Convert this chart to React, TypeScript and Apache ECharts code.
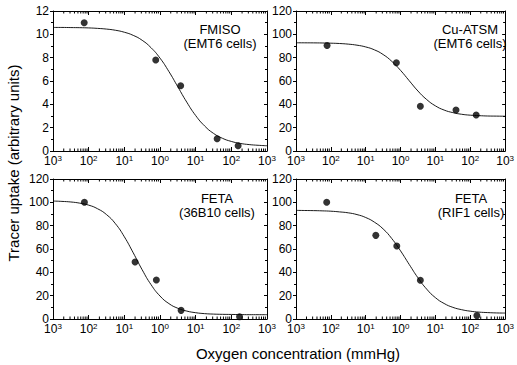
import React, { useEffect, useRef } from "react";
import * as echarts from "echarts";

// x positions of the curve samples, in decades (log10 of mmHg)
const CURVE_EXP = [-3, -2.75, -2.5, -2.25, -2, -1.75, -1.5, -1.25, -1, -0.75, -0.5, -0.25, 0, 0.25, 0.5, 0.75, 1, 1.25, 1.5, 1.75, 2, 2.25, 2.5, 2.75, 3];

// Panel 1: FMISO (EMT6 cells)
const FMISO_X = [0.0075, 0.76, 3.8, 40, 155];
const FMISO_Y = [11.0, 7.8, 5.6, 1.05, 0.45];
const FMISO_CURVE = [10.59, 10.59, 10.58, 10.57, 10.55, 10.51, 10.45, 10.35, 10.18, 9.91, 9.49, 8.85, 7.96, 6.81, 5.5, 4.19, 3.04, 2.15, 1.51, 1.09, 0.82, 0.65, 0.55, 0.49, 0.45];

// Panel 2: Cu-ATSM (EMT6 cells)
const CUATSM_X = [0.0078, 0.76, 3.7, 39, 148];
const CUATSM_Y = [90.5, 75.7, 38.3, 35.1, 30.9];
const CUATSM_CURVE = [92.76, 92.73, 92.68, 92.59, 92.42, 92.13, 91.6, 90.7, 89.2, 86.7, 82.7, 76.8, 69.1, 60.2, 51.4, 44.1, 38.7, 35.1, 32.9, 31.5, 30.7, 30.3, 30.0, 29.9, 29.8];

// Panel 3: FETA (36B10 cells)
const FETA36_X = [0.0076, 0.2, 0.79, 3.9, 170];
const FETA36_Y = [100, 48.9, 33.4, 7.4, 2.0];
const FETA36_CURVE = [101.1, 100.8, 100.3, 99.3, 97.6, 94.5, 89.5, 81.7, 70.5, 56.7, 42.2, 29.4, 19.7, 13.2, 9.2, 6.8, 5.4, 4.6, 4.2, 4.0, 3.9, 3.8, 3.7, 3.7, 3.7];

// Panel 4: FETA (RIF1 cells)
const FETARIF_X = [0.0076, 0.195, 0.78, 3.7, 155];
const FETARIF_Y = [100, 71.7, 62.6, 33.2, 2.9];
const FETARIF_CURVE = [93.1, 93.0, 92.9, 92.7, 92.4, 91.8, 91.0, 89.5, 87.0, 83.0, 77.2, 68.9, 58.4, 46.7, 35.3, 25.6, 18.3, 13.3, 10.0, 8.0, 6.7, 5.9, 5.5, 5.2, 5.1];

const TITLES = [
  ["FMISO", "(EMT6 cells)"],
  ["Cu-ATSM", "(EMT6 cells)"],
  ["FETA", "(36B10 cells)"],
  ["FETA", "(RIF1 cells)"],
];
const Y_MAX = [12, 120, 120, 120];
const Y_INTERVAL = [2, 20, 20, 20];

const X_TITLE = "Oxygen concentration (mmHg)";
const Y_TITLE = "Tracer uptake (arbitrary units)";

const FONT = "'Liberation Sans', Arial, Helvetica, sans-serif";
const SUP: Record<string, string> = { "-3": "3", "-2": "2", "-1": "1", "0": "0", "1": "1", "2": "2", "3": "3" };

const GRIDS = [
  { left: 53, top: 11, width: 214, height: 140 },
  { left: 296, top: 11, width: 216, height: 140 },
  { left: 53, top: 179, width: 214, height: 140 },
  { left: 296, top: 179, width: 216, height: 140 },
];
const TITLE_POS = [
  [220, 29],
  [470, 29],
  [217, 198],
  [471, 198],
];

export default function App() {
  const ref = useRef<HTMLDivElement>(null);
  useEffect(() => {
    if (!ref.current) return;
    const chart = echarts.init(ref.current, null, { renderer: "svg" });

    const panels = [
      { x: FMISO_X, y: FMISO_Y, c: FMISO_CURVE },
      { x: CUATSM_X, y: CUATSM_Y, c: CUATSM_CURVE },
      { x: FETA36_X, y: FETA36_Y, c: FETA36_CURVE },
      { x: FETARIF_X, y: FETARIF_Y, c: FETARIF_CURVE },
    ];

    // log minor tick positions (2..9 within each decade)
    const minorTicks: number[][] = [];
    for (let d = -3; d < 3; d++) {
      for (let k = 2; k <= 9; k++) minorTicks.push([d + Math.log10(k), 0]);
    }

    const xAxis: any[] = [];
    const yAxis: any[] = [];
    const series: any[] = [];
    panels.forEach((p, i) => {
      const ymax = Y_MAX[i];
      xAxis.push({
        gridIndex: i,
        type: "value",
        min: -3,
        max: 3,
        interval: 1,
        position: "bottom",
        axisLine: { onZero: false, lineStyle: { color: "#000", width: 1 } },
        axisTick: { inside: true, length: 4, lineStyle: { color: "#000" } },
        splitLine: { show: false },
        axisLabel: {
          margin: 3,
          formatter: (v: number) => `{a|10}{b|${SUP[String(Math.round(v))]}}`,
          rich: {
            a: { fontSize: 12, fontFamily: FONT, color: "#000", lineHeight: 13, verticalAlign: "bottom" },
            b: { fontSize: 8, fontFamily: FONT, color: "#000", lineHeight: 8, verticalAlign: "top" },
          },
        },
      });
      xAxis.push({
        gridIndex: i,
        type: "value",
        min: -3,
        max: 3,
        interval: 1,
        position: "top",
        axisLine: { onZero: false, lineStyle: { color: "#000", width: 1 } },
        axisTick: { inside: true, length: 4, lineStyle: { color: "#000" } },
        axisLabel: { show: false },
        splitLine: { show: false },
      });
      yAxis.push({
        gridIndex: i,
        type: "value",
        min: 0,
        max: ymax,
        interval: Y_INTERVAL[i],
        position: "left",
        axisLine: { onZero: false, lineStyle: { color: "#000", width: 1 } },
        axisTick: { inside: false, length: 3, lineStyle: { color: "#000" } },
        minorTick: { show: true, splitNumber: 2, length: 2, lineStyle: { color: "#000" } },
        splitLine: { show: false },
        axisLabel: { margin: 4, fontSize: 12, fontFamily: FONT, color: "#000" },
      });
      yAxis.push({
        gridIndex: i,
        type: "value",
        min: 0,
        max: ymax,
        interval: Y_INTERVAL[i],
        position: "right",
        axisLine: { onZero: false, lineStyle: { color: "#000", width: 1 } },
        axisTick: { inside: true, length: 3, lineStyle: { color: "#000" } },
        minorTick: { show: true, splitNumber: 2, length: 2, lineStyle: { color: "#000" } },
        splitLine: { show: false },
        axisLabel: { show: false },
      });

      series.push({
        type: "line",
        xAxisIndex: 2 * i,
        yAxisIndex: 2 * i,
        data: CURVE_EXP.map((e, j) => [e, p.c[j]]),
        smooth: true,
        showSymbol: false,
        symbol: "none",
        lineStyle: { color: "#000", width: 0.9 },
        silent: true,
        z: 2,
      });
      series.push({
        type: "scatter",
        xAxisIndex: 2 * i,
        yAxisIndex: 2 * i,
        data: p.x.map((xv, j) => [Math.log10(xv), p.y[j]]),
        symbol: "circle",
        symbolSize: 7,
        itemStyle: { color: "#000" },
        silent: true,
        z: 3,
      });
      series.push({
        type: "custom",
        xAxisIndex: 2 * i,
        yAxisIndex: 2 * i,
        data: minorTicks,
        silent: true,
        clip: false,
        renderItem: (_params: any, api: any) => {
          const xv = api.value(0);
          const b = api.coord([xv, 0]);
          const t = api.coord([xv, ymax]);
          return {
            type: "group",
            children: [
              { type: "line", shape: { x1: b[0], y1: b[1], x2: b[0], y2: b[1] - 2.5 }, style: { stroke: "#000", lineWidth: 1 } },
              { type: "line", shape: { x1: t[0], y1: t[1], x2: t[0], y2: t[1] + 2.5 }, style: { stroke: "#000", lineWidth: 1 } },
            ],
          };
        },
        z: 1,
      });
    });

    const graphic: any[] = [];
    TITLES.forEach((t, i) => {
      graphic.push({
        type: "text",
        x: TITLE_POS[i][0],
        y: TITLE_POS[i][1],
        style: { text: t[0], textAlign: "center", textVerticalAlign: "middle", font: `13px ${FONT}`, fill: "#000" },
      });
      graphic.push({
        type: "text",
        x: TITLE_POS[i][0],
        y: TITLE_POS[i][1] + 14,
        style: { text: t[1], textAlign: "center", textVerticalAlign: "middle", font: `13px ${FONT}`, fill: "#000" },
      });
    });
    graphic.push({
      type: "text",
      x: 298,
      y: 353,
      style: { text: X_TITLE, textAlign: "center", textVerticalAlign: "middle", font: `15px ${FONT}`, fill: "#000" },
    });
    graphic.push({
      type: "text",
      x: 13,
      y: 163,
      rotation: Math.PI / 2,
      style: { text: Y_TITLE, textAlign: "center", textVerticalAlign: "middle", font: `15px ${FONT}`, fill: "#000" },
    });

    chart.setOption({
      animation: false,
      backgroundColor: "#fff",
      grid: GRIDS.map((g) => ({ ...g, containLabel: false })),
      xAxis,
      yAxis,
      series,
      graphic,
    });
    return () => chart.dispose();
  }, []);
  return <div ref={ref} style={{ position: "absolute", left: 0, top: 0, width: 517, height: 365 }} />;
}
